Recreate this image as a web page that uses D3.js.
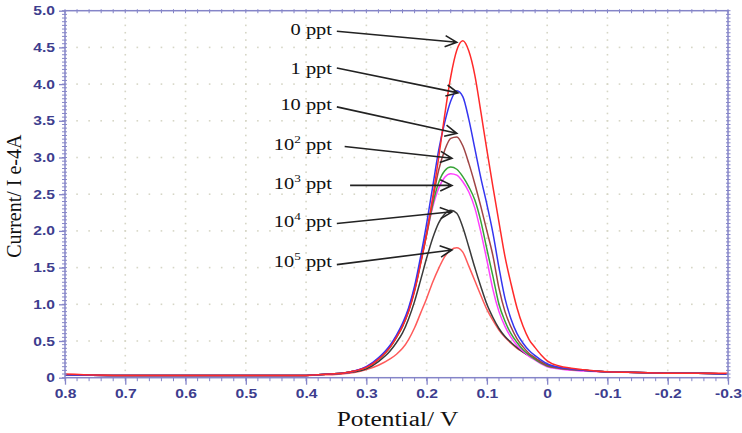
<!DOCTYPE html>
<html><head><meta charset="utf-8">
<script src="https://cdnjs.cloudflare.com/ajax/libs/d3/7.8.5/d3.min.js"></script>
<style>body{margin:0;background:#fff} svg{display:block}</style>
</head><body><svg id="c" width="742" height="433"></svg>
<script>
// ---------- data ----------
const potential = [0.80, 0.70, 0.60, 0.50, 0.45, 0.40, 0.38, 0.36, 0.34, 0.32,
  0.30, 0.28, 0.26, 0.25, 0.24, 0.23, 0.22, 0.21, 0.20, 0.19,
  0.18, 0.17, 0.16, 0.15, 0.14, 0.13, 0.12, 0.11, 0.10, 0.09,
  0.08, 0.07, 0.06, 0.05, 0.04, 0.03, 0.02, 0.01, 0.00, -0.02,
  -0.04, -0.06, -0.10, -0.15, -0.20, -0.25, -0.30];

const current_0ppt = [0.05, 0.03, 0.03, 0.03, 0.03, 0.03, 0.04, 0.05, 0.06, 0.09,
  0.14, 0.25, 0.42, 0.55, 0.70, 0.90, 1.18, 1.55, 1.96, 2.45,
  3.00, 3.58, 4.10, 4.46, 4.59, 4.45, 4.12, 3.62, 3.10, 2.60,
  2.12, 1.65, 1.28, 0.95, 0.70, 0.52, 0.41, 0.31, 0.23, 0.16,
  0.13, 0.11, 0.08, 0.07, 0.06, 0.06, 0.06];
const current_1ppt = [0.04, 0.03, 0.03, 0.03, 0.03, 0.03, 0.04, 0.05, 0.06, 0.09,
  0.15, 0.27, 0.45, 0.58, 0.74, 0.95, 1.25, 1.65, 2.10, 2.60,
  3.10, 3.48, 3.77, 3.91, 3.83, 3.52, 3.12, 2.72, 2.36, 1.97,
  1.50, 1.08, 0.80, 0.60, 0.47, 0.37, 0.30, 0.24, 0.19, 0.14,
  0.12, 0.10, 0.08, 0.07, 0.06, 0.06, 0.05];
const current_10ppt = [0.04, 0.03, 0.03, 0.03, 0.03, 0.03, 0.04, 0.05, 0.06, 0.09,
  0.14, 0.25, 0.43, 0.56, 0.71, 0.92, 1.20, 1.58, 1.98, 2.42,
  2.83, 3.10, 3.26, 3.28, 3.16, 2.92, 2.64, 2.33, 2.00, 1.66,
  1.22, 0.90, 0.69, 0.53, 0.42, 0.33, 0.27, 0.21, 0.17, 0.13,
  0.11, 0.10, 0.08, 0.07, 0.06, 0.06, 0.05];
const current_1e2ppt = [0.04, 0.03, 0.03, 0.03, 0.03, 0.03, 0.04, 0.05, 0.06, 0.09,
  0.14, 0.25, 0.42, 0.55, 0.70, 0.91, 1.19, 1.56, 1.95, 2.36,
  2.66, 2.82, 2.87, 2.84, 2.74, 2.60, 2.42, 2.13, 1.75, 1.38,
  1.00, 0.77, 0.60, 0.48, 0.38, 0.31, 0.25, 0.20, 0.16, 0.13,
  0.11, 0.10, 0.08, 0.07, 0.06, 0.06, 0.05];
const current_1e3ppt = [0.04, 0.03, 0.03, 0.03, 0.03, 0.03, 0.04, 0.05, 0.06, 0.09,
  0.15, 0.26, 0.44, 0.57, 0.72, 0.93, 1.22, 1.58, 1.95, 2.32,
  2.58, 2.73, 2.78, 2.76, 2.67, 2.53, 2.31, 1.98, 1.60, 1.20,
  0.90, 0.70, 0.55, 0.44, 0.36, 0.29, 0.24, 0.19, 0.15, 0.12,
  0.10, 0.09, 0.08, 0.07, 0.06, 0.06, 0.05];
const current_1e4ppt = [0.04, 0.03, 0.03, 0.03, 0.03, 0.03, 0.04, 0.05, 0.06, 0.08,
  0.12, 0.22, 0.37, 0.48, 0.61, 0.80, 1.04, 1.33, 1.63, 1.90,
  2.11, 2.23, 2.28, 2.24, 2.05, 1.78, 1.50, 1.24, 1.00, 0.82,
  0.67, 0.56, 0.48, 0.41, 0.35, 0.30, 0.26, 0.21, 0.17, 0.13,
  0.11, 0.10, 0.08, 0.07, 0.06, 0.06, 0.05];
const current_1e5ppt = [0.04, 0.03, 0.03, 0.03, 0.03, 0.03, 0.04, 0.04, 0.05, 0.07,
  0.11, 0.17, 0.26, 0.32, 0.40, 0.52, 0.68, 0.88, 1.08, 1.30,
  1.49, 1.65, 1.74, 1.77, 1.71, 1.52, 1.32, 1.12, 0.93, 0.78,
  0.65, 0.55, 0.47, 0.40, 0.35, 0.30, 0.26, 0.22, 0.18, 0.14,
  0.11, 0.10, 0.08, 0.07, 0.06, 0.06, 0.05];

const seriesLabelBase = ["0", "1", "10", "10", "10", "10", "10"];
const seriesLabelExp  = ["", "", "", "2", "3", "4", "5"];
const seriesValues = [current_0ppt, current_1ppt, current_10ppt, current_1e2ppt, current_1e3ppt, current_1e4ppt, current_1e5ppt];

// annotation arrows (data coordinates)
const arrowTailV = [0.349, 0.349, 0.349, 0.336, 0.327, 0.349, 0.349];
const arrowTailI = [4.72, 4.22, 3.69, 3.15, 2.62, 2.10, 1.54];
const arrowTipV  = [0.150, 0.148, 0.150, 0.158, 0.158, 0.158, 0.158];
const arrowTipI  = [4.57, 3.88, 3.33, 2.99, 2.62, 2.26, 1.74];
const labelI     = [4.74, 4.21, 3.72, 3.17, 2.64, 2.12, 1.57];

const xTickValues = [0.8, 0.7, 0.6, 0.5, 0.4, 0.3, 0.2, 0.1, 0, -0.1, -0.2, -0.3];
const yTickValues = [0, 0.5, 1.0, 1.5, 2.0, 2.5, 3.0, 3.5, 4.0, 4.5, 5.0];

// ---------- styles ----------
const colors = ["#ff2a2a", "#3535f0", "#a04545", "#36a336", "#ff40ff", "#3a3a3a", "#ff5a5a"];
const axisColor = "#8585c8";
const tickTextColor = "#3d3d8e";
const gridColor = "#d6d6c6";

const svg = d3.select("#c");
const L = 65, R = 728, T = 10.7, B = 377.7;
const x = d3.scaleLinear().domain([0.8, -0.3]).range([L, R]);
const y = d3.scaleLinear().domain([0, 5]).range([B, T]);

function stretch(sel, k) {
  sel.each(function () {
    const len = this.getComputedTextLength();
    this.setAttribute("textLength", len * k);
    this.setAttribute("lengthAdjust", "spacingAndGlyphs");
  });
}

// grid dots
const minorX = d3.range(0, 56).map(i => 0.8 - i * 0.02);
const minorY = d3.range(0, 51).map(i => i * 0.1);
const gridG = svg.append("g");
yTickValues.filter(v => v > 0 && v < 5).forEach(v => {
  minorX.forEach(mx => gridG.append("rect").attr("x", x(mx) - 0.8).attr("y", y(v) - 0.8)
    .attr("width", 1.6).attr("height", 1.6).attr("fill", gridColor));
});
xTickValues.filter(v => v < 0.79 && v > -0.29).forEach(v => {
  minorY.forEach(my => gridG.append("rect").attr("x", x(v) - 0.8).attr("y", y(my) - 0.8)
    .attr("width", 1.6).attr("height", 1.6).attr("fill", gridColor));
});

// curves
const line = d3.line().x(d => x(d[0])).y(d => y(d[1])).curve(d3.curveMonotoneX);
const drawOrder = [6, 5, 4, 3, 2, 1, 0];
drawOrder.forEach(i => {
  const pts = potential.map((p, j) => [p, seriesValues[i][j]]);
  svg.append("path").attr("d", line(pts)).attr("fill", "none")
    .attr("stroke", colors[i]).attr("stroke-width", 1.5);
});

// frame
svg.append("rect").attr("x", L).attr("y", T).attr("width", R - L).attr("height", B - T)
  .attr("fill", "none").attr("stroke", axisColor).attr("stroke-width", 1.5);

// minor ticks
const minorXT = d3.range(0, 56).map(i => +(0.8 - i * 0.02).toFixed(2));
const minorYT = d3.range(0, 101).map(i => +(i * 0.05).toFixed(2));
const tg = svg.append("g").attr("stroke", axisColor).attr("stroke-width", 1);
minorXT.forEach(v => {
  tg.append("line").attr("x1", x(v)).attr("x2", x(v)).attr("y1", B).attr("y2", B + 3.5);
  tg.append("line").attr("x1", x(v)).attr("x2", x(v)).attr("y1", T - 1.5).attr("y2", T + 2.5);
});
minorYT.forEach(v => {
  tg.append("line").attr("x1", L - 3).attr("x2", L + 2).attr("y1", y(v)).attr("y2", y(v));
  tg.append("line").attr("x1", R - 2).attr("x2", R + 2.5).attr("y1", y(v)).attr("y2", y(v));
});

// axes with labels
const fmt = d => d === 0 ? "0" : d3.format(".1f")(d).replace("\u2212", "-");
const xAxis = d3.axisBottom(x).tickValues(xTickValues).tickSize(7).tickPadding(4).tickFormat(fmt);
const gx = svg.append("g").attr("transform", `translate(0,${B})`).call(xAxis);
const yAxis = d3.axisLeft(y).tickValues(yTickValues).tickSize(6).tickPadding(4).tickFormat(fmt);
const gy = svg.append("g").attr("transform", `translate(${L},0)`).call(yAxis);
[gx, gy].forEach(g => {
  g.select(".domain").remove();
  g.selectAll(".tick line").attr("stroke", axisColor).attr("stroke-width", 1.3);
  g.selectAll(".tick text").attr("fill", tickTextColor)
    .attr("font-family", "'Liberation Sans', Arial, sans-serif")
    .attr("font-weight", "bold").attr("font-size", 12.5);
  stretch(g.selectAll(".tick text"), 1.25);
});

// axis titles
const xt = svg.append("text").attr("x", (L + R) / 2 + 1).attr("y", 426).attr("text-anchor", "middle")
  .attr("font-family", "'Liberation Serif', 'Times New Roman', serif").attr("font-size", 20)
  .attr("fill", "#111").text("Potential/ V");
stretch(xt, 1.27);
svg.append("text").attr("transform", `translate(21,${(T + B) / 2 + 2}) rotate(-90)`)
  .attr("text-anchor", "middle")
  .attr("font-family", "'Liberation Serif', 'Times New Roman', serif").attr("font-size", 20)
  .attr("fill", "#111").text("Current/ I e-4A");

// annotations
const ag = svg.append("g");
seriesLabelBase.forEach((b, i) => {
  const t = ag.append("text").attr("x", 332).attr("y", y(labelI[i]) + 5).attr("text-anchor", "end")
    .attr("font-family", "'Liberation Serif', 'Times New Roman', serif").attr("font-size", 17).attr("fill", "#111");
  t.append("tspan").text(b);
  if (seriesLabelExp[i]) {
    t.append("tspan").attr("dy", -7).attr("font-size", 11).text(seriesLabelExp[i]);
    t.append("tspan").attr("dy", 7).text(" ppt");
  } else {
    t.append("tspan").text(" ppt");
  }
  stretch(t, 1.2);
  const x1 = x(arrowTailV[i]), y1 = y(arrowTailI[i]), x2 = x(arrowTipV[i]), y2 = y(arrowTipI[i]);
  const ang = Math.atan2(y2 - y1, x2 - x1);
  const hl = 13, ha = 0.45;
  const p1 = [x2 - hl * Math.cos(ang - ha), y2 - hl * Math.sin(ang - ha)];
  const p2 = [x2 - hl * Math.cos(ang + ha), y2 - hl * Math.sin(ang + ha)];
  ag.append("path").attr("d", `M${x1},${y1}L${x2},${y2}M${p1[0]},${p1[1]}L${x2},${y2}L${p2[0]},${p2[1]}`)
    .attr("fill", "none").attr("stroke", "#222").attr("stroke-width", 1.6);
});
</script></body></html>
